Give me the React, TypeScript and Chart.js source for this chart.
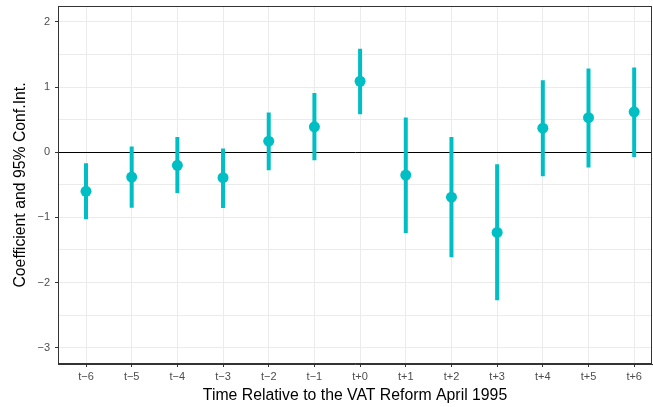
import React, { useEffect, useRef } from "react";
import { Chart, registerables } from "chart.js";

Chart.register(...registerables);

const categories = ["t−6", "t−5", "t−4", "t−3", "t−2", "t−1", "t+0", "t+1", "t+2", "t+3", "t+4", "t+5", "t+6"];
const coefficients = [-0.6, -0.38, -0.2, -0.39, 0.17, 0.39, 1.09, -0.35, -0.69, -1.23, 0.37, 0.53, 0.62];
const lowerCI = [-1.03, -0.85, -0.625, -0.855, -0.276, -0.123, 0.584, -1.24, -1.61, -2.27, -0.369, -0.235, -0.072];
const upperCI = [-0.17, 0.09, 0.235, 0.057, 0.61, 0.91, 1.59, 0.533, 0.235, -0.184, 1.106, 1.286, 1.3];
const yTickValues = [-3, -2.5, -2, -1.5, -1, -0.5, 0, 0.5, 1, 1.5, 2];

const COLOR = "#00BFC4";
const FONT = "'Liberation Sans', Arial, Helvetica, sans-serif";

const fmtNum = (v: number) => (v < 0 ? "−" + Math.abs(v) : String(v));

const panelBorder = {
  id: "panelBorder",
  afterDraw(chart: any) {
    const { ctx, chartArea } = chart;
    ctx.save();
    ctx.strokeStyle = "#333333";
    ctx.lineWidth = 1;
    ctx.strokeRect(chartArea.left + 0.5, chartArea.top + 0.5, chartArea.right - chartArea.left - 1, chartArea.bottom - chartArea.top - 1);
    ctx.restore();
  },
};

export default function App() {
  const ref = useRef<HTMLCanvasElement | null>(null);

  useEffect(() => {
    document.body.style.margin = "0";
    if (!ref.current) return;
    const errData: any[] = [];
    categories.forEach((_, i) => {
      errData.push({ x: i, y: lowerCI[i] });
      errData.push({ x: i, y: upperCI[i] });
      errData.push({ x: i, y: null });
    });
    const pointData = categories.map((_, i) => ({ x: i, y: coefficients[i] }));

    const chart = new Chart(ref.current, {
      type: "scatter",
      data: {
        datasets: [
          {
            data: errData,
            showLine: true,
            spanGaps: false,
            borderColor: COLOR,
            borderWidth: 4,
            pointRadius: 0,
            borderCapStyle: "butt",
          } as any,
          {
            data: pointData,
            backgroundColor: COLOR,
            borderColor: COLOR,
            pointRadius: 5.5,
            borderWidth: 0,
          } as any,
        ],
      },
      plugins: [panelBorder],
      options: {
        animation: false,
        responsive: false,
        layout: { autoPadding: false, padding: { top: 6, right: 1, left: 0, bottom: 0 } },
        plugins: { legend: { display: false }, tooltip: { enabled: false } },
        scales: {
          x: {
            type: "linear",
            min: -0.613,
            max: 12.39,
            afterFit: (s: any) => {
              s.height = 43;
              s.paddingLeft = 0;
              s.paddingRight = 0;
            },
            afterBuildTicks: (s: any) => {
              s.ticks = categories.map((_, i) => ({ value: i }));
            },
            ticks: {
              callback: (v: any) => categories[v as number] ?? "",
              color: "#4d4d4d",
              font: { family: FONT, size: 11 },
              padding: 3,
              maxRotation: 0,
              autoSkip: false,
            },
            grid: {
              color: "#ebebeb",
              lineWidth: 1,
              tickColor: "#333333",
              tickLength: 3,
            },
            border: { display: true, color: "#333333", width: 1 },
            title: {
              display: true,
              text: "Time Relative to the VAT Reform April 1995",
              color: "#000000",
              font: { family: FONT, size: 15.8 },
              padding: { top: 0, bottom: 2 },
            },
          },
          y: {
            type: "linear",
            min: -3.25,
            max: 2.245,
            afterFit: (s: any) => {
              s.width = 58;
              s.paddingTop = 0;
              s.paddingBottom = 0;
            },
            afterBuildTicks: (s: any) => {
              s.ticks = yTickValues.map((v) => ({ value: v }));
            },
            ticks: {
              callback: (v: any) => (Number(v) % 1 === 0 ? fmtNum(Number(v)) : ""),
              color: "#4d4d4d",
              font: { family: FONT, size: 11 },
              padding: 5,
              autoSkip: false,
            },
            grid: {
              color: (c: any) => (c.tick && c.tick.value === 0 ? "#000000" : "#ebebeb"),
              lineWidth: 1,
              tickColor: (c: any) => (c.tick && c.tick.value % 1 === 0 ? "#333333" : "rgba(0,0,0,0)"),
              tickLength: 3,
            },
            border: { display: true, color: "#333333", width: 1 },
            title: {
              display: true,
              text: "Coefficient and 95% Conf.Int.",
              color: "#000000",
              font: { family: FONT, size: 15.8 },
              padding: { top: 11, bottom: 0 },
            },
          },
        },
      },
    });
    return () => chart.destroy();
  }, []);

  return (
    <div style={{ position: "fixed", left: 0, top: 0, width: 653, height: 407 }}>
      <canvas ref={ref} width={653} height={407} style={{ width: 653, height: 407 }} />
    </div>
  );
}
